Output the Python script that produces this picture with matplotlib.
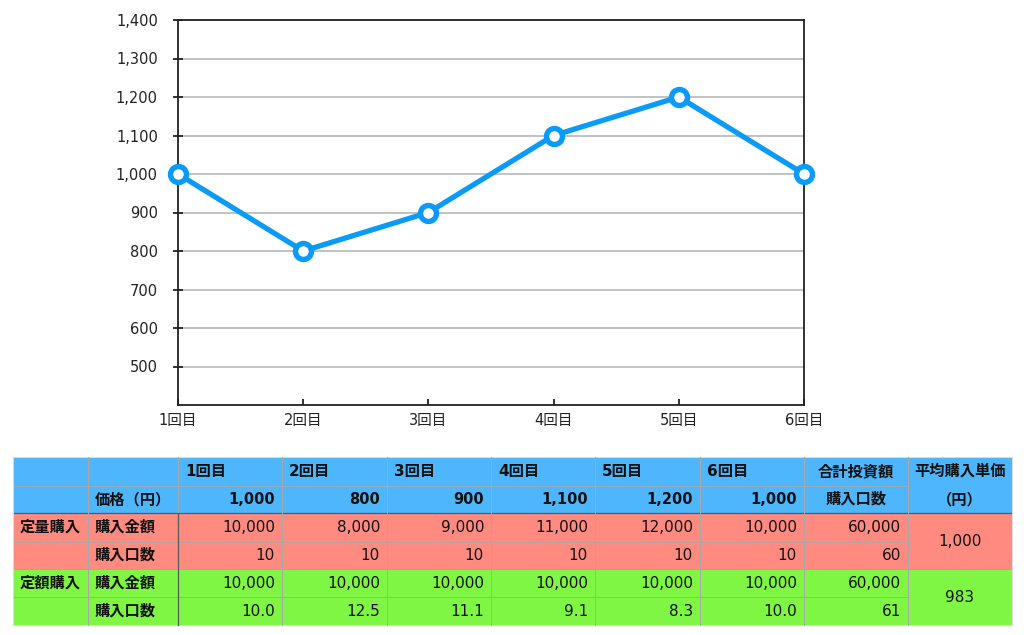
import matplotlib
matplotlib.use('Agg')
import matplotlib.pyplot as plt
from matplotlib.patches import Rectangle
from matplotlib.ticker import FuncFormatter

# フォント設定（数字は DejaVu、日本語は Noto CJK にフォールバック）
plt.rcParams['font.family'] = ['DejaVu Sans', 'Noto Sans CJK JP']

# データ
rounds = ['1回目', '2回目', '3回目', '4回目', '5回目', '6回目']
prices = [1000, 800, 900, 1100, 1200, 1000]
qty_amounts = [10000, 8000, 9000, 11000, 12000, 10000]
qty_units = [10, 10, 10, 10, 10, 10]
amt_amounts = [10000, 10000, 10000, 10000, 10000, 10000]
amt_units = [10.0, 12.5, 11.1, 9.1, 8.3, 10.0]
qty_totals = ['60,000', '60']
amt_totals = ['60,000', '61']
avg_prices = ['1,000', '983']

LINE_COLOR = '#0a9bf8'
BLUE = '#4db6fc'
RED = '#ff8a80'
GREEN = '#7ef643'

fig = plt.figure(figsize=(10.24, 6.35), dpi=100)

# 折れ線グラフ
ax = fig.add_axes([178 / 1024, 1 - 405 / 635, (804 - 178) / 1024, (405 - 20) / 635])
x = list(range(len(rounds)))
ax.plot(x, prices, color=LINE_COLOR, linewidth=3.8, marker='o', markersize=11.5,
        markerfacecolor='white', markeredgecolor=LINE_COLOR, markeredgewidth=3.9,
        zorder=5, clip_on=False)
ax.set_xlim(0, len(rounds) - 1)
ax.set_ylim(400, 1400)
ax.set_yticks(range(500, 1401, 100))
ax.yaxis.set_major_formatter(FuncFormatter(lambda v, p: f'{int(v):,}'))
ax.set_xticks(x)
ax.set_xticklabels(rounds)
ax.grid(axis='y', color='#bdbdbd', linewidth=1.3)
ax.set_axisbelow(True)
for s in ax.spines.values():
    s.set_color('#222222')
    s.set_linewidth(1.3)
ax.tick_params(axis='y', direction='inout', length=7, width=1.3, labelsize=10.5, pad=11, colors='#222222')
ax.tick_params(axis='x', direction='in', length=4, width=1.3, labelsize=10.5, pad=6, colors='#222222')

# 表
tab = fig.add_axes([0, 0, 1, 1])
tab.set_xlim(0, 1024)
tab.set_ylim(635, 0)
tab.axis('off')

col_edges = [13, 88, 178, 282, 387, 491, 595, 700, 804, 908, 1012]
row_edges = [457, 486, 513, 542, 569, 597, 625]
row_colors = [BLUE, BLUE, RED, RED, GREEN, GREEN]

for r, c in enumerate(row_colors):
    tab.add_patch(Rectangle((col_edges[0], row_edges[r]), col_edges[-1] - col_edges[0],
                            row_edges[r + 1] - row_edges[r], facecolor=c, edgecolor='none'))

light = '#a8a8a8'
dark = '#5a5a5a'
# 横線
for r in range(1, 6):
    y = row_edges[r]
    x1 = col_edges[-2] if r in (1, 3, 5) else col_edges[-1]
    tab.plot([col_edges[0], x1], [y, y], color=dark if r == 2 else light, lw=0.9 if r == 2 else 0.7)
tab.plot([col_edges[0], col_edges[-1]], [row_edges[0], row_edges[0]], color='#dddddd', lw=0.7)
tab.plot([col_edges[0], col_edges[-1]], [row_edges[-1], row_edges[-1]], color='#dddddd', lw=0.7)
# 縦線
for i in range(1, len(col_edges) - 1):
    xx = col_edges[i]
    tab.plot([xx, xx], [row_edges[0], row_edges[2]], color=light, lw=0.7)
    tab.plot([xx, xx], [row_edges[2], row_edges[-1]], color=dark if i == 2 else light, lw=0.9 if i == 2 else 0.7)
for xx in (col_edges[0], col_edges[-1]):
    tab.plot([xx, xx], [row_edges[0], row_edges[-1]], color='#dddddd', lw=0.7)

fs = 11


def cy(r):
    return (row_edges[r] + row_edges[r + 1]) / 2


def left(c, r, s, bold=True):
    tab.text(col_edges[c] + 7, cy(r), s, ha='left', va='center', fontsize=fs,
             fontweight='bold' if bold else 'normal', color='#111111')


def right(c, r, s, bold=False):
    tab.text(col_edges[c + 1] - 7, cy(r), s, ha='right', va='center',
             fontsize=fs - 0.5 if bold else fs,
             fontweight='bold' if bold else 'normal', color='#111111')


def center(c, y, s, bold=False):
    tab.text((col_edges[c] + col_edges[c + 1]) / 2, y, s, ha='center', va='center', fontsize=fs,
             fontweight='bold' if bold else 'normal', color='#111111')


for i, name in enumerate(rounds):
    left(i + 2, 0, name)
    right(i + 2, 1, f'{prices[i]:,}', bold=True)
    right(i + 2, 2, f'{qty_amounts[i]:,}')
    right(i + 2, 3, f'{qty_units[i]}')
    right(i + 2, 4, f'{amt_amounts[i]:,}')
    right(i + 2, 5, f'{amt_units[i]:.1f}')

left(1, 1, '価格（円）')
left(0, 2, '定量購入')
left(1, 2, '購入金額')
left(1, 3, '購入口数')
left(0, 4, '定額購入')
left(1, 4, '購入金額')
left(1, 5, '購入口数')

center(8, cy(0), '合計投資額', bold=True)
center(8, cy(1), '購入口数', bold=True)
center(9, cy(0), '平均購入単価', bold=True)
center(9, cy(1), '（円）', bold=True)

right(8, 2, qty_totals[0])
right(8, 3, qty_totals[1])
right(8, 4, amt_totals[0])
right(8, 5, amt_totals[1])
center(9, row_edges[3], avg_prices[0])
center(9, row_edges[5], avg_prices[1])

fig.savefig('out.png', dpi=100)
